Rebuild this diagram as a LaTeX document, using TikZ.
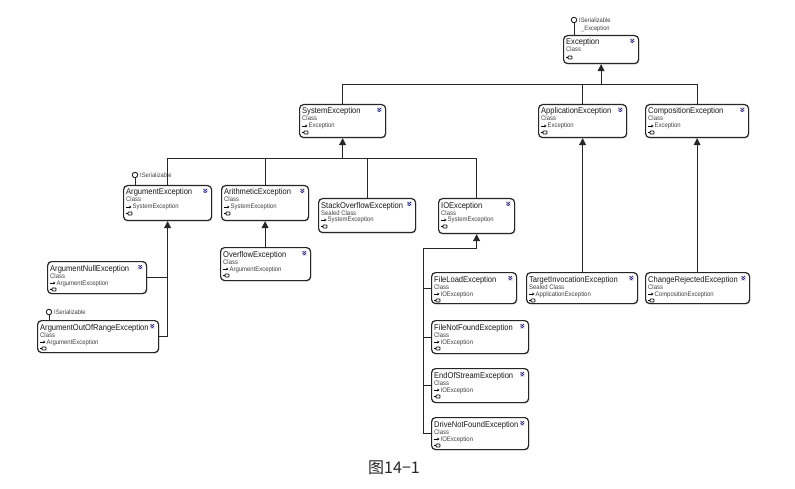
\documentclass[tikz,border=0pt]{standalone}
\usepackage{fontspec}
\newfontfamily\titlefont{Liberation Sans}[FakeStretch=0.9]
\newfontfamily\subfont{Liberation Sans}[FakeStretch=0.9]
\newfontfamily\cjk{Noto Sans CJK SC}
\usetikzlibrary{arrows.meta,shadows}
\tikzset{
  clsbox/.style={draw=black!85, line width=1.2pt, rounded corners=4pt, fill=white,
    drop shadow={shadow xshift=0.8pt, shadow yshift=-0.8pt, opacity=0.3}, inner sep=0pt, anchor=north west},
  ttl/.style={font=\fontsize{8.4}{9}\selectfont\titlefont, inner sep=0pt, text=black!90, anchor=base west},
  sub/.style={font=\fontsize{6.6}{7}\selectfont\subfont, inner sep=0pt, text=black!75, anchor=base west},
  iflbl/.style={font=\fontsize{6.4}{7}\selectfont\subfont, inner sep=0pt, text=black!75, anchor=west},
  lolli/.style={circle, draw=black!85, line width=0.9pt, minimum size=5.5pt, inner sep=0pt, fill=white},
  chev/.style={rectangle, fill=black!10, minimum size=5pt, inner sep=0pt},
  conn/.style={draw=black!85, line width=0.8pt},
  inh/.style={conn, -{Triangle[width=7pt,length=7pt]}},
}
% name, x, y, w, h, title, kind, base
\newcommand\umlcls[8]{%
  \node[clsbox, minimum width=#4pt, minimum height=#5pt] (#1) at (#2,#3) {};
  \node[ttl] (#1-t) at ([xshift=3pt,yshift=-10pt]#1.north west) {#6};
  \node[sub] (#1-k) at ([xshift=3pt,yshift=-17pt]#1.north west) {#7};
  \draw[line width=0.7pt,-{Stealth[length=2.3pt,width=2.6pt]}] ([xshift=3pt,yshift=-22pt]#1.north west) -- ++(5.5pt,0pt);
  \node[sub] (#1-b) at ([xshift=9.5pt,yshift=-24pt]#1.north west) {#8};
  \umlicon{#1}{-28.5pt}%
  \umlchev{#1}%
}
\newcommand\umlicon[2]{%
  \draw[line width=0.7pt] ([xshift=3pt,yshift=#2]#1.north west) -- ++(2pt,0pt);
  \draw[line width=0.7pt, rounded corners=0.6pt] ([xshift=5pt,yshift=#2+1.5pt]#1.north west) rectangle ++(4pt,-3pt);
}
\newcommand\umlchev[1]{%
  \node[chev] (#1-c) at ([xshift=-7pt,yshift=-6pt]#1.north east) {};
  \draw[blue!60!black, line width=0.6pt] ([xshift=-1.6pt,yshift=1.8pt]#1-c.center) -- ([yshift=0.4pt]#1-c.center) -- ([xshift=1.6pt,yshift=1.8pt]#1-c.center);
  \draw[blue!60!black, line width=0.6pt] ([xshift=-1.6pt,yshift=-0.2pt]#1-c.center) -- ([yshift=-1.6pt]#1-c.center) -- ([xshift=1.6pt,yshift=-0.2pt]#1-c.center);
}
\begin{document}
\begin{tikzpicture}[x=1pt,y=-1pt]
\useasboundingbox[fill=white] (0,0) rectangle (795,489);

% Exception (no base line)
\node[clsbox, minimum width=75pt, minimum height=28pt] (exc) at (563,35) {};
\node[ttl] (exc-t) at ([xshift=3pt,yshift=-10pt]exc.north west) {Exception};
\node[sub] (exc-k) at ([xshift=3pt,yshift=-17pt]exc.north west) {Class};
\umlicon{exc}{-22.5pt}
\umlchev{exc}

\umlcls{sys}{299}{104}{86}{33}{SystemException}{Class}{Exception}
\umlcls{app}{538}{104}{88}{33}{ApplicationException}{Class}{Exception}
\umlcls{comp}{645}{104}{103}{33}{CompositionException}{Class}{Exception}

\umlcls{arg}{123}{185}{88}{35}{ArgumentException}{Class}{SystemException}
\umlcls{arith}{221}{185}{87}{35}{ArithmeticException}{Class}{SystemException}
\umlcls{stack}{318}{198}{97}{34}{StackOverflowException}{Sealed Class}{SystemException}
\umlcls{io}{438}{198}{76}{35}{IOException}{Class}{SystemException}

\umlcls{argnull}{47}{261}{99}{32}{ArgumentNullException}{Class}{ArgumentException}
\umlcls{argout}{37}{320}{121}{32}{ArgumentOutOfRangeException}{Class}{ArgumentException}
\umlcls{over}{220}{247}{90}{33}{OverflowException}{Class}{ArgumentException}

\umlcls{fload}{431}{272}{85}{31}{FileLoadException}{Class}{IOException}
\umlcls{fnf}{431}{320}{97}{33}{FileNotFoundException}{Class}{IOException}
\umlcls{eos}{431}{368}{97}{34}{EndOfStreamException}{Class}{IOException}
\umlcls{dnf}{431}{417}{97}{32}{DriveNotFoundException}{Class}{IOException}

\umlcls{target}{526}{272}{111}{31}{TargetInvocationException}{Sealed Class}{ApplicationException}
\umlcls{change}{645}{272}{104}{31}{ChangeRejectedException}{Class}{CompositionException}

% lollipops
\node[lolli] (exc-if) at (574,20) {};
\draw[conn] (exc-if) -- (exc-if |- exc.north);
\node[iflbl] (exc-ifl) at (579,20.5) {ISerializable};
\node[iflbl] (exc-ifl2) at (581,28.5) {\_Exception};

\node[lolli] (arg-if) at (135,175) {};
\draw[conn] (arg-if) -- (arg-if |- arg.north);
\node[iflbl] (arg-ifl) at (140,175.5) {ISerializable};

\node[lolli] (argout-if) at (49,312) {};
\draw[conn] (argout-if) -- (argout-if |- argout.north);
\node[iflbl] (argout-ifl) at (54,312.5) {ISerializable};

% top tree
\draw[inh] (exc.south |- 0,84) -- (exc.south);
\draw[conn] (sys.north) |- (comp.north |- 0,84) -- (comp.north);
\draw[conn] (app.north) -- (app.north |- 0,84);

% system tree
\draw[inh] (sys.south |- 0,158) -- (sys.south);
\draw[conn] (arg.north) |- (io.north |- 0,158) -- (io.north);
\draw[conn] (arith.north) -- (arith.north |- 0,158);
\draw[conn] (stack.north) -- (stack.north |- 0,158);

% argument tree
\draw[inh] (argout.east) -| (arg.south);
\draw[conn] (argnull.east) -- (argnull.east -| arg.south);

% arithmetic
\draw[inh] (arith.south |- over.north) -- (arith.south);

% IO tree
\coordinate (iobus) at (423,248);
\draw[inh] (dnf.west -| iobus) |- (iobus -| io.south) -- (io.south);
\draw[conn] (fload.west) -- (fload.west -| iobus);
\draw[conn] (fnf.west) -- (fnf.west -| iobus);
\draw[conn] (eos.west) -- (eos.west -| iobus);
\draw[conn] (dnf.west) -- (dnf.west -| iobus);

% application / composition
\draw[inh] (app.south |- target.north) -- (app.south);
\draw[inh] (comp.south |- change.north) -- (comp.south);

% caption
\node[inner sep=0pt, font=\fontsize{16}{18}\selectfont\cjk, text=black!85] (cap) at (394,468) {图14−1};
\end{tikzpicture}
\end{document}
